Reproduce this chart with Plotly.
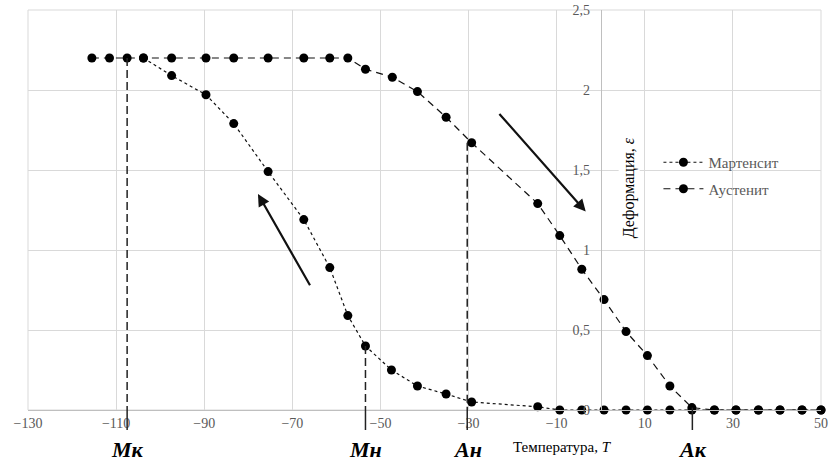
import plotly.graph_objects as go

# ---- data ----
mart_x = [-103.8, -97.4, -89.6, -83.3, -75.5, -67.4, -61.5, -57.4, -53.4, -47.5, -41.6, -35.1,
          -29.3, -14.3, -9.3, -4.3, 0.75, 5.75, 10.6, 15.7, 20.7, 25.8, 30.7, 35.8, 40.7, 45.7, 50.0]
mart_y = [2.2, 2.09, 1.97, 1.79, 1.49, 1.19, 0.89, 0.59, 0.40, 0.25, 0.15, 0.10,
          0.05, 0.02, 0, 0, 0, 0, 0, 0, 0, 0, 0, 0, 0, 0, 0]
aust_x = [-115.5, -111.5, -107.5, -103.8, -97.4, -89.6, -83.3, -75.5, -67.4, -61.5, -57.4,
          -53.4, -47.3, -41.6, -35.1, -29.3, -14.3, -9.3, -4.3, 0.75, 5.75, 10.6, 15.7, 20.7,
          25.8, 30.7, 35.8, 40.7, 45.7, 50.0]
aust_y = [2.2, 2.2, 2.2, 2.2, 2.2, 2.2, 2.2, 2.2, 2.2, 2.2, 2.2,
          2.13, 2.08, 1.99, 1.83, 1.67, 1.29, 1.09, 0.88, 0.69, 0.49, 0.34, 0.15, 0.015,
          0, 0, 0, 0, 0, 0]

# characteristic temperatures: label, x, strain where line starts
point_labels = ["Мк", "Мн", "Ан", "Ак"]
point_x = [-107.5, -53.4, -30.3, 20.8]
point_y = [2.2, 0.40, 1.67, 0.015]

x_ticks = [-130, -110, -90, -70, -50, -30, -10, 10, 30, 50]
y_ticks = [0, 0.5, 1, 1.5, 2, 2.5]

SERIF = "Liberation Serif, Times New Roman, serif"
GRID = "#d9d9d9"
TICKC = "#595959"

fig = go.Figure()
fig.add_trace(go.Scatter(
    x=mart_x, y=mart_y, name="Мартенсит", mode="lines+markers", legendgroup="m",
    line=dict(color="#111111", width=1.2, dash="dot"),
    marker=dict(color="black", size=9), cliponaxis=False))
fig.add_trace(go.Scatter(
    x=aust_x, y=aust_y, name="Аустенит", mode="lines+markers", legendgroup="a",
    line=dict(color="#111111", width=1.2, dash="7px,5px"),
    marker=dict(color="black", size=9), cliponaxis=False))

for lab, px, py in zip(point_labels, point_x, point_y):
    fig.add_shape(type="line", xref="x", yref="y", x0=px, x1=px, y0=py, y1=0,
                  line=dict(color="#222222", width=1.5, dash="8px,4px"))
    fig.add_shape(type="line", xref="x", yref="y domain", x0=px, x1=px, y0=0, y1=-0.05,
                  line=dict(color="#222222", width=1.5))
    fig.add_annotation(x=px, y=0, xref="x", yref="y", yshift=-39, showarrow=False,
                       text="<b><i>%s</i></b>" % lab,
                       font=dict(family=SERIF, size=22, color="black"))

# arrows
fig.add_annotation(x=-77.8, y=1.35, ax=-65.8, ay=0.77, xref="x", yref="y",
                   axref="x", ayref="y", showarrow=True, arrowhead=2, arrowsize=1.1,
                   arrowwidth=2.2, arrowcolor="#111111", text="")
fig.add_annotation(x=-3.4, y=1.24, ax=-23.3, ay=1.86, xref="x", yref="y",
                   axref="x", ayref="y", showarrow=True, arrowhead=2, arrowsize=1.1,
                   arrowwidth=2.2, arrowcolor="#111111", text="")

# axis titles
fig.add_annotation(x=0, y=1.39, xref="x", yref="y", xshift=28, showarrow=False,
                   textangle=-90, text="Деформация, <i>ε</i>", bgcolor="white",
                   font=dict(family=SERIF, size=16, color="black"))
fig.add_annotation(x=-8.6, y=0, xref="x", yref="y", yshift=-37, showarrow=False,
                   text="Температура, <i>T</i>",
                   font=dict(family=SERIF, size=15, color="black"))

fig.update_layout(
    width=831, height=466,
    margin=dict(l=28, r=10, t=10, b=56),
    paper_bgcolor="white", plot_bgcolor="white",
    separators=", ",
    showlegend=True,
    legend=dict(x=0.795, y=0.66, xanchor="left", yanchor="top",
                font=dict(family=SERIF, size=15, color=TICKC),
                bgcolor="rgba(0,0,0,0)", traceorder="grouped", tracegroupgap=4,
                itemwidth=40),
    xaxis=dict(range=[-130, 50], tickvals=x_ticks, showgrid=True, gridcolor=GRID,
               gridwidth=1, zeroline=False, showline=True, linecolor="#bfbfbf",
               mirror=False, ticks="", automargin=False,
               tickfont=dict(family=SERIF, size=14, color=TICKC)),
    yaxis=dict(range=[0, 2.5], tickvals=y_ticks, showgrid=True, gridcolor=GRID,
               gridwidth=1, zeroline=False, showline=True, linecolor="#bfbfbf",
               anchor="free", position=130 / 180, side="left", ticks="",
               ticklabelstandoff=8, automargin=False,
               tickfont=dict(family=SERIF, size=14, color=TICKC)),
)
fig.add_shape(type="rect", xref="paper", yref="paper", x0=0, x1=1, y0=0, y1=1,
              line=dict(color=GRID, width=1), layer="below")

fig.write_html("out.html", config={"displayModeBar": False},
               post_script="document.body.style.margin='0';document.body.style.padding='0';")
